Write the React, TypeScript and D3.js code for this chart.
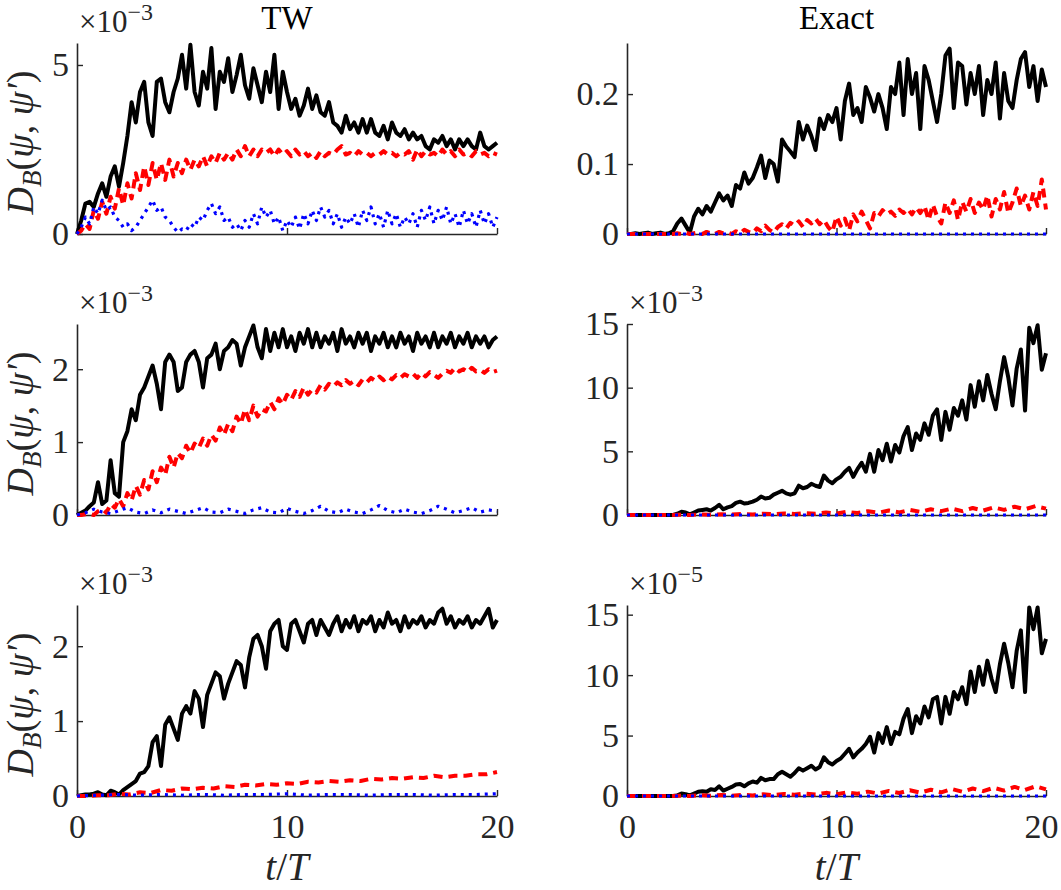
import React, { useRef, useEffect } from "react";
import * as d3 from "d3";

const WIDTH = 1061;
const HEIGHT = 890;
const T_END = 20; // every series is sampled evenly over t/T = 0..20

// ---- TW column, top row (x1e-3) ----
const twTopBlack = [
  0, 0.4, 0.9, 0.95, 0.8, 1.2, 1.5, 1.1, 1.7, 2.0,
  1.4, 2.1, 2.9, 3.9, 3.3, 4.2, 4.5, 3.3, 2.9, 4.5,
  4.6, 3.9, 3.6, 4.2, 4.6, 5.3, 4.3, 5.6, 4.2, 3.8,
  4.8, 4.3, 5.5, 3.7, 4.8, 4.5, 5.2, 4.2, 4.7, 5.3,
  4.4, 4.0, 4.9, 4.4, 3.9, 4.8, 4.2, 5.3, 3.7, 4.8,
  4.2, 3.7, 4.0, 3.5, 3.8, 4.3, 3.7, 4.1, 3.6, 3.5,
  3.9, 3.3, 3.2, 3.0, 3.5, 3.1, 3.3, 3.0, 3.4, 3.0,
  3.4, 3.0, 2.9, 3.2, 2.8, 3.3, 3.0, 2.9, 3.1, 2.8,
  3.0, 2.8, 2.9, 2.6, 2.5, 2.8, 2.7, 2.9, 2.6, 2.8,
  2.5, 2.8, 2.6, 2.8, 2.6, 2.5, 3.0, 2.6, 2.5, 2.6,
  2.7,
];
const twTopRed = [
  0, 0.1, 0.3, 0.15, 0.7, 0.45, 0.95, 0.6, 1.1, 0.75,
  1.35, 0.85, 1.5, 1.05, 1.8, 1.3, 2.0, 1.45, 2.1, 1.6,
  2.1, 1.6, 2.2, 1.7, 2.1, 1.8, 2.2, 1.9, 2.2, 2.0,
  2.3, 2.0, 2.3, 2.1, 2.4, 2.2, 2.4, 2.2, 2.5, 2.3,
  2.6, 2.3, 2.5, 2.3, 2.5, 2.4, 2.5, 2.3, 2.5, 2.35,
  2.45, 2.3, 2.5, 2.35, 2.45, 2.3, 2.4, 2.25, 2.45, 2.3,
  2.4, 2.35, 2.5, 2.6, 2.35, 2.4, 2.3, 2.45, 2.35, 2.4,
  2.3, 2.4, 2.35, 2.45, 2.35, 2.4, 2.3, 2.4, 2.35, 2.45,
  2.2, 2.5, 2.3, 2.45, 2.35, 2.4, 2.3, 2.5, 2.35, 2.45,
  2.3, 2.5, 2.35, 2.4, 2.3, 2.45, 2.35, 2.4, 2.3, 2.4,
  2.35,
];
const twTopBlue = [
  0, 0.2, 0.5, 0.3, 0.8, 0.6, 1.0, 0.7, 0.8, 0.5,
  0.4, 0.2, 0.3, 0.1, 0.2, 0.4, 0.6, 0.8, 1.0, 0.7,
  0.8, 0.5, 0.4, 0.2, 0.05, 0.15, 0.1, 0.3, 0.2, 0.5,
  0.4, 0.7, 0.9, 0.6, 0.8, 0.4, 0.5, 0.2, 0.3, 0.1,
  0.4, 0.2, 0.6, 0.3, 0.8, 0.5, 0.7, 0.3, 0.5, 0.1,
  0.4, 0.2, 0.5, 0.15, 0.6, 0.3, 0.7, 0.4, 0.8, 0.5,
  0.7, 0.3, 0.6, 0.2, 0.5, 0.3, 0.6, 0.2, 0.7, 0.4,
  0.8, 0.3, 0.6, 0.2, 0.7, 0.3, 0.6, 0.2, 0.5, 0.3,
  0.6, 0.2, 0.7, 0.4, 0.8, 0.3, 0.7, 0.4, 0.8, 0.3,
  0.6, 0.2, 0.7, 0.3, 0.6, 0.2, 0.7, 0.3, 0.6, 0.2,
  0.5,
];

// ---- TW column, middle row (x1e-3) ----
const twMidBlack = [
  0, 0.03, 0.06, 0.12, 0.17, 0.45, 0.15, 0.2, 0.75, 0.3,
  0.25, 1.0, 1.15, 1.45, 1.3, 1.65, 1.75, 1.9, 2.05, 1.8,
  1.45, 2.1, 2.2, 2.1, 1.7, 1.75, 2.1, 2.2, 2.25, 2.1,
  1.75, 2.15, 2.2, 2.35, 2.0, 2.25, 2.3, 2.4, 2.35, 2.05,
  2.3, 2.45, 2.6, 2.3, 2.15, 2.55, 2.25, 2.5, 2.3, 2.55,
  2.3, 2.45, 2.25, 2.5, 2.35, 2.55, 2.3, 2.5, 2.3, 2.45,
  2.35, 2.5, 2.25, 2.55, 2.35, 2.45, 2.3, 2.5, 2.35, 2.5,
  2.25, 2.45, 2.35, 2.5, 2.3, 2.45, 2.3, 2.5, 2.35, 2.45,
  2.25, 2.5, 2.35, 2.45, 2.3, 2.5, 2.3, 2.45, 2.35, 2.5,
  2.3, 2.45, 2.35, 2.5, 2.3, 2.45, 2.35, 2.45, 2.3, 2.4,
  2.45,
];
const twMidRed = [
  0, 0, 0.01, 0.02, 0, 0.05, 0.08, 0.03, 0.15, 0.1,
  0.22, 0.12, 0.3, 0.2, 0.4, 0.28, 0.48, 0.35, 0.6, 0.45,
  0.65, 0.55, 0.8, 0.65, 0.85, 0.78, 0.95, 0.85, 0.98, 0.92,
  1.05, 0.95, 1.1, 1.02, 1.2, 1.1, 1.25, 1.15, 1.35, 1.25,
  1.45, 1.3, 1.5, 1.35, 1.45, 1.42, 1.55, 1.45, 1.6, 1.52,
  1.65, 1.58, 1.7, 1.62, 1.75, 1.65, 1.72, 1.68, 1.78, 1.72,
  1.8, 1.76, 1.82, 1.78, 1.85, 1.8, 1.84, 1.78, 1.86, 1.82,
  1.88, 1.84, 1.9, 1.85, 1.9, 1.86, 1.92, 1.88, 1.93, 1.9,
  1.94, 1.88, 1.95, 1.9, 1.96, 1.92, 1.88, 1.94, 1.98, 1.95,
  2.02, 1.97, 2.0, 1.96, 2.02, 1.97, 1.99, 1.95, 2.0, 1.96,
  1.98,
];
const twMidBlue = [
  0, 0.03, 0.08, 0.04, 0.02, 0.06, 0.1, 0.04, 0.02, 0.07,
  0.03, 0.08, 0.05, 0.02, 0.06, 0.1, 0.04, 0.03, 0.08, 0.05,
  0.02, 0.07, 0.1, 0.04, 0.03, 0.09, 0.05, 0.02, 0.06, 0.12,
  0.05, 0.03, 0.08, 0.04, 0.02, 0.07, 0.13, 0.06, 0.03, 0.08,
  0.04, 0.02, 0.06, 0.12, 0.08, 0.03, 0.06, 0.1, 0.04, 0.07,
  0.05,
];

// ---- TW column, bottom row (x1e-3) ----
const twLowBlack = [
  0, 0.01, 0.02, 0.02, 0.03, 0.05, 0.02, 0.01, 0.07, 0.05,
  0.02, 0.08, 0.12, 0.16, 0.2, 0.3, 0.32, 0.4, 0.72, 0.8,
  0.4, 0.95, 1.05, 0.9, 0.75, 1.1, 1.2, 1.1, 1.4, 1.3,
  0.92, 1.35, 1.5, 1.65, 1.6, 1.3, 1.5, 1.65, 1.8, 1.75,
  1.45, 1.85, 2.1, 2.15, 2.0, 1.7, 2.2, 2.3, 2.35, 2.0,
  1.95, 2.3, 2.35, 2.2, 2.05, 2.3, 2.35, 2.15, 2.35, 2.25,
  2.15, 2.3, 2.4, 2.2, 2.35, 2.25, 2.4, 2.2, 2.35, 2.3,
  2.4, 2.2, 2.35, 2.25, 2.45, 2.3, 2.35, 2.2, 2.4, 2.25,
  2.35, 2.3, 2.4, 2.25, 2.35, 2.3, 2.45, 2.5, 2.3, 2.4,
  2.25, 2.35, 2.3, 2.4, 2.25, 2.35, 2.3, 2.4, 2.5, 2.25,
  2.35,
];
const twLowRed = [
  0, 0, 0.01, 0.01, 0.03, 0.02, 0.05, 0.04, 0.08, 0.07,
  0.1, 0.09, 0.11, 0.1, 0.13, 0.12, 0.15, 0.14, 0.16, 0.15,
  0.17, 0.16, 0.19, 0.18, 0.2, 0.19, 0.21, 0.2, 0.23, 0.22,
  0.24, 0.23, 0.25, 0.24, 0.27, 0.25, 0.27, 0.27, 0.29, 0.29,
  0.32,
];
const twLowBlue = [
  0, 0.01, 0.02, 0.01, 0.02, 0.01, 0.02, 0.01, 0.02, 0.02,
  0.03, 0.01, 0.02, 0.02, 0.01, 0.02, 0.02, 0.01, 0.02, 0.02,
  0.03,
];

// ---- Exact column, top row (raw values) ----
const exTopBlack = [
  0, 0, 0.001, 0, 0.001, 0.002, 0, 0.001, 0.002, 0,
  0.001, 0.004, 0.015, 0.022, 0.012, 0.002, 0.025, 0.036, 0.028, 0.04,
  0.032, 0.045, 0.058, 0.048, 0.055, 0.04, 0.07, 0.065, 0.088, 0.072,
  0.08, 0.095, 0.112, 0.08, 0.105, 0.1, 0.075, 0.135, 0.125, 0.118,
  0.11, 0.16, 0.135, 0.155, 0.14, 0.12, 0.165, 0.15, 0.17, 0.16,
  0.18, 0.135, 0.19, 0.215, 0.17, 0.18, 0.16, 0.21, 0.195, 0.175,
  0.2, 0.18, 0.15, 0.21, 0.2, 0.245, 0.17, 0.25, 0.2, 0.23,
  0.15, 0.24, 0.22, 0.19, 0.16, 0.2, 0.255, 0.265, 0.18, 0.245,
  0.24, 0.185, 0.23, 0.2, 0.24, 0.17, 0.22, 0.2, 0.245, 0.165,
  0.23, 0.19, 0.18, 0.22, 0.25, 0.26, 0.21, 0.24, 0.19, 0.235,
  0.21,
];
const exTopRed = [
  0, 0, 0, 0, 0, 0, 0, 0, 0, 0,
  0, 0, 0.001, 0, 0.002, 0, 0.001, 0.002, 0, 0.003,
  0.001, 0, 0.003, 0.001, 0.002, 0, 0.004, 0.001, 0.006, 0.003,
  0.001, 0.008, 0.004, 0.012, 0.006, 0.002, 0.01, 0.014, 0.008, 0.016,
  0.012, 0.018, 0.01, 0.02, 0.015, 0.022, 0.014, 0.02, 0.01, 0.003,
  0.025, 0.012, 0.022, 0.005, 0.028, 0.018, 0.032, 0.02, 0.008, 0.03,
  0.025, 0.034, 0.028, 0.032, 0.026, 0.035, 0.03, 0.036, 0.028, 0.038,
  0.03, 0.04, 0.02, 0.042, 0.025, 0.015, 0.045, 0.03, 0.048, 0.02,
  0.046, 0.032, 0.05, 0.03, 0.045, 0.035, 0.055, 0.025, 0.05, 0.035,
  0.06, 0.03, 0.045, 0.065, 0.04, 0.055, 0.035, 0.06, 0.04, 0.078,
  0.035,
];
const exTopBlue = [
  0, 0, 0, 0, 0, 0, 0, 0, 0, 0,
  0, 0, 0, 0, 0, 0, 0, 0, 0, 0,
  0,
];

// ---- Exact column, middle row (x1e-3) ----
const exMidBlack = [
  0, 0, 0, 0, 0, 0, 0, 0, 0, 0,
  0, 0, 0.1, 0.25, 0.2, 0.05, 0.2, 0.35, 0.4, 0.45,
  0.35, 0.55, 0.8, 0.45, 0.6, 0.7, 0.95, 1.05, 0.9, 0.95,
  1.05, 1.2, 1.45, 1.3, 1.35, 1.6, 1.75, 1.9, 1.7, 1.6,
  1.7, 2.3, 2.1, 2.2, 2.45, 2.3, 2.2, 3.1, 2.7, 2.5,
  2.8, 3.0, 3.4, 3.7, 3.0, 3.6, 4.1, 3.4, 4.8, 3.4,
  5.1, 4.3, 5.6, 4.2, 5.5, 4.9, 6.2, 6.9, 5.1, 6.4,
  5.9, 7.2, 6.3, 7.8, 8.3, 5.9, 8.1, 6.7, 8.4, 7.8,
  9.0, 7.5, 10.2, 8.5, 10.5, 9.0, 11.0, 9.5, 8.3, 10.5,
  12.4, 10.8, 8.6, 11.5, 13.0, 8.2, 14.7, 13.5, 14.9, 11.4,
  12.7,
];
const exMidRed = [
  0, 0, 0, 0, 0, 0.02, 0, 0.05, 0.02, 0.06,
  0.03, 0.08, 0.04, 0.1, 0.06, 0.12, 0.08, 0.15, 0.1, 0.2,
  0.12, 0.25, 0.15, 0.3, 0.18, 0.35, 0.2, 0.4, 0.25, 0.45,
  0.3, 0.5, 0.3, 0.55, 0.35, 0.6, 0.4, 0.65, 0.45, 0.7,
  0.5,
];
const exMidBlue = [
  0, 0, 0, 0, 0, 0, 0, 0, 0, 0,
  0, 0, 0, 0, 0, 0, 0, 0, 0, 0,
  0,
];

// ---- Exact column, bottom row (x1e-5) ----
const exLowBlack = [
  0, 0, 0, 0, 0, 0, 0, 0, 0, 0,
  0, 0, 0.05, 0.2, 0.15, 0.05, 0.2, 0.35, 0.4, 0.35,
  0.55, 0.5, 0.8, 0.45, 0.6, 0.75, 0.95, 1.0, 0.8, 1.05,
  1.2, 1.1, 1.5, 1.3, 1.4, 1.4, 1.8, 2.0, 1.8, 1.6,
  1.9, 2.3, 2.1, 2.3, 2.5, 2.2, 2.4, 3.2, 2.8, 2.6,
  2.9, 3.1, 3.5, 3.9, 3.2, 3.6, 3.9, 4.3, 4.9, 3.6,
  5.2, 4.4, 5.7, 4.3, 5.3, 5.1, 6.4, 7.2, 5.2, 6.6,
  6.0, 7.4, 6.5, 8.0, 8.2, 6.0, 8.2, 6.8, 8.6, 8.0,
  9.0, 7.6, 10.3, 8.6, 10.7, 9.2, 11.2, 9.7, 8.6, 10.9,
  12.6, 11.0, 9.0, 12.0, 13.7, 8.6, 15.6, 13.8, 15.6, 11.8,
  13.0,
];
const exLowRed = [
  0, 0, 0, 0, 0, 0.02, 0, 0.06, 0.02, 0.08,
  0.03, 0.1, 0.05, 0.14, 0.07, 0.17, 0.1, 0.2, 0.12, 0.26,
  0.15, 0.3, 0.18, 0.36, 0.2, 0.42, 0.25, 0.48, 0.28, 0.52,
  0.3, 0.58, 0.35, 0.62, 0.4, 0.68, 0.45, 0.75, 0.5, 0.8,
  0.55,
];
const exLowBlue = [
  0, 0, 0, 0, 0, 0, 0, 0, 0, 0,
  0, 0, 0, 0, 0, 0, 0, 0, 0, 0,
  0,
];

const columnTitles = ["TW", "Exact"];
const xTicks = [0, 10, 20];

// one entry per panel, row by row: [TW, Exact]
const panels = [
  { col: 0, row: 0, yMax: 5.65, yTicks: [0, 5], exp: "3", series: [twTopBlack, twTopRed, twTopBlue] },
  { col: 1, row: 0, yMax: 0.273, yTicks: [0, 0.1, 0.2], exp: null, series: [exTopBlack, exTopRed, exTopBlue] },
  { col: 0, row: 1, yMax: 2.62, yTicks: [0, 1, 2], exp: "3", series: [twMidBlack, twMidRed, twMidBlue] },
  { col: 1, row: 1, yMax: 15, yTicks: [0, 5, 10, 15], exp: "3", series: [exMidBlack, exMidRed, exMidBlue] },
  { col: 0, row: 2, yMax: 2.55, yTicks: [0, 1, 2], exp: "3", series: [twLowBlack, twLowRed, twLowBlue] },
  { col: 1, row: 2, yMax: 15.8, yTicks: [0, 5, 10, 15], exp: "5", series: [exLowBlack, exLowRed, exLowBlue] },
];

const lineStyles = [
  { color: "#000000", width: 4, dash: null },
  { color: "#ff0000", width: 4, dash: "9 6" },
  { color: "#0000ff", width: 3.2, dash: "3 5" },
];

const FONT = "'Liberation Serif', 'Times New Roman', serif";
const AXIS_COLOR = "#262626";

const App = () => {
  const svgRef = useRef<SVGSVGElement>(null);

  useEffect(() => {
    const svg = d3.select(svgRef.current);
    svg.selectAll("*").remove();

    const colX = [[77, 497], [627, 1046]];
    const rowY = [[43, 234], [324, 515], [605, 796]];

    // column titles
    columnTitles.forEach((title, c) => {
      svg
        .append("text")
        .attr("x", (colX[c][0] + colX[c][1]) / 2)
        .attr("y", 29)
        .attr("text-anchor", "middle")
        .attr("font-family", FONT)
        .attr("font-size", 33)
        .attr("fill", "#000")
        .text(title);
    });

    panels.forEach((p) => {
      const [x0, x1] = colX[p.col];
      const [yTop, yBot] = rowY[p.row];
      const x = d3.scaleLinear().domain([0, T_END]).range([x0, x1]);
      const y = d3.scaleLinear().domain([0, p.yMax]).range([yBot, yTop]);
      const isBottom = p.row === 2;

      const g = svg.append("g").attr("font-family", FONT);

      // x axis
      const xAxis = d3
        .axisBottom(x)
        .tickValues(xTicks)
        .tickSize(-6)
        .tickSizeOuter(0)
        .tickPadding(18)
        .tickFormat((d) => (isBottom ? String(d) : ""));
      const gx = g.append("g").attr("transform", `translate(0,${yBot})`).call(xAxis);

      // y axis
      const yAxis = d3
        .axisLeft(y)
        .tickValues(p.yTicks)
        .tickSize(-6)
        .tickSizeOuter(0)
        .tickPadding(8)
        .tickFormat((d) => String(d));
      const gy = g.append("g").attr("transform", `translate(${x0},0)`).call(yAxis);

      [gx, gy].forEach((ax) => {
        ax.attr("font-family", FONT).attr("font-size", 34);
        ax.select(".domain").attr("stroke", AXIS_COLOR).attr("stroke-width", 1.6);
        ax.selectAll(".tick line").attr("stroke", AXIS_COLOR).attr("stroke-width", 1.4);
        ax.selectAll(".tick text").attr("fill", AXIS_COLOR);
      });

      // the last x label on the right edge would run past the page; pull it in a touch
      if (isBottom && p.col === 1) {
        gx.selectAll<SVGTextElement, number>(".tick text")
          .filter((d) => d === T_END)
          .attr("dx", -5);
      }

      // exponent label
      if (p.exp) {
        const e = g
          .append("text")
          .attr("x", x0 + 2)
          .attr("y", yTop - 11)
          .attr("fill", AXIS_COLOR)
          .attr("font-size", 31);
        e.append("tspan").text("×10");
        e.append("tspan")
          .attr("dy", -12)
          .attr("font-size", 24)
          .text("−" + p.exp);
      }

      // series: black solid, red dashed, blue dotted
      p.series.forEach((vals, k) => {
        const st = lineStyles[k];
        const line = d3
          .line<number>()
          .x((_, i) => x((i * T_END) / (vals.length - 1)))
          .y((d) => y(d));
        const path = g
          .append("path")
          .datum(vals)
          .attr("d", line)
          .attr("fill", "none")
          .attr("stroke", st.color)
          .attr("stroke-width", st.width)
          .attr("stroke-linejoin", "round");
        if (st.dash) path.attr("stroke-dasharray", st.dash);
      });

      // y label on left column
      if (p.col === 0) {
        const cy = (yTop + yBot) / 2 + 4;
        const lbl = g
          .append("text")
          .attr("transform", `translate(33,${cy}) rotate(-90)`)
          .attr("text-anchor", "middle")
          .attr("fill", AXIS_COLOR)
          .attr("font-size", 38);
        lbl.append("tspan").attr("font-style", "italic").text("D");
        lbl.append("tspan").attr("dy", 8).attr("font-size", 27).attr("font-style", "italic").text("B");
        lbl.append("tspan").attr("dy", -8).text("(");
        lbl.append("tspan").attr("font-style", "italic").text("ψ");
        lbl.append("tspan").text(", ");
        lbl.append("tspan").attr("font-style", "italic").text("ψ′");
        lbl.append("tspan").text(")");
      }

      // x label on bottom row
      if (isBottom) {
        const xl = g
          .append("text")
          .attr("x", (x0 + x1) / 2)
          .attr("y", 880)
          .attr("text-anchor", "middle")
          .attr("fill", AXIS_COLOR)
          .attr("font-size", 39);
        xl.append("tspan").attr("font-style", "italic").text("t");
        xl.append("tspan").text("/");
        xl.append("tspan").attr("font-style", "italic").text("T");
      }
    });
  }, []);

  return (
    <svg
      ref={svgRef}
      width={WIDTH}
      height={HEIGHT}
      style={{ position: "absolute", left: 0, top: 0, background: "#fff" }}
    />
  );
};

export default App;
